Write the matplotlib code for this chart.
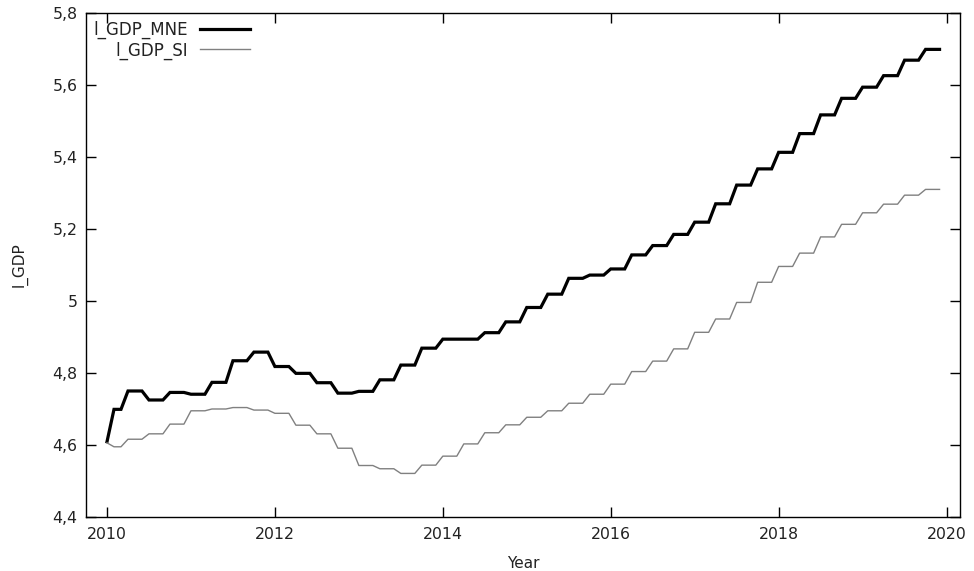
import numpy as np
import matplotlib
matplotlib.use("Agg")
import matplotlib.pyplot as plt
from matplotlib.ticker import FuncFormatter, MultipleLocator

# quarterly values 2010Q1 .. 2019Q4 (monthly series repeats each quarter)
gdp_mne_q = [4.699, 4.750, 4.725, 4.746,
             4.741, 4.774, 4.834, 4.858,
             4.818, 4.799, 4.773, 4.744,
             4.749, 4.781, 4.822, 4.869,
             4.894, 4.894, 4.912, 4.942,
             4.982, 5.019, 5.063, 5.072,
             5.089, 5.128, 5.154, 5.185,
             5.219, 5.270, 5.322, 5.367,
             5.413, 5.465, 5.517, 5.563,
             5.594, 5.626, 5.669, 5.699]
gdp_si_q = [4.595, 4.616, 4.631, 4.658,
            4.695, 4.700, 4.704, 4.697,
            4.688, 4.655, 4.631, 4.591,
            4.543, 4.534, 4.521, 4.544,
            4.569, 4.603, 4.634, 4.656,
            4.677, 4.695, 4.716, 4.741,
            4.769, 4.804, 4.833, 4.867,
            4.913, 4.950, 4.996, 5.052,
            5.096, 5.133, 5.178, 5.213,
            5.245, 5.269, 5.294, 5.310]
# first month differs from the rest of 2010Q1
first_mne = 4.609
first_si = 4.606

mne = np.repeat(gdp_mne_q, 3)
si = np.repeat(gdp_si_q, 3)
mne[0] = first_mne
si[0] = first_si
years = 2010 + np.arange(len(mne)) / 12

plt.rcParams['font.family'] = 'DejaVu Sans'
txt = '#222222'
fig = plt.figure(figsize=(9.74, 5.71), dpi=100)
ax = fig.add_axes([0.0883, 0.0946, 0.8973, 0.8826])

ax.plot(years, mne, color='black', lw=2.3, label='l_GDP_MNE', solid_joinstyle='miter')
ax.plot(years, si, color='#808080', lw=1.0, label='l_GDP_SI')

ax.set_xlim(2009.75, 2020.16)
ax.set_ylim(4.4, 5.8)
ax.xaxis.set_major_locator(MultipleLocator(2))
ax.yaxis.set_major_locator(MultipleLocator(0.2))
ax.xaxis.set_major_formatter(FuncFormatter(lambda v, p: '%d' % round(v)))
ax.yaxis.set_major_formatter(FuncFormatter(lambda v, p: ('%g' % round(v, 2)).replace('.', ',')))
ax.tick_params(direction='in', length=7, width=1, top=True, right=True,
               labelsize=11.3, labelcolor=txt)
ax.tick_params(axis='x', pad=7)
ax.tick_params(axis='y', pad=6)
for s in ax.spines.values():
    s.set_linewidth(1)

ax.set_xlabel('Year', fontsize=11, labelpad=10, color=txt)
ax.set_ylabel('l_GDP', fontsize=11, labelpad=18, color=txt)

leg = ax.legend(loc='upper left', frameon=False, markerfirst=False, fontsize=12,
                handlelength=3.0, handletextpad=0.7, labelspacing=0.15,
                borderaxespad=0.0, borderpad=0.45)
for t in leg.get_texts():
    t.set_color(txt)

fig.savefig('out.png', dpi=100)
